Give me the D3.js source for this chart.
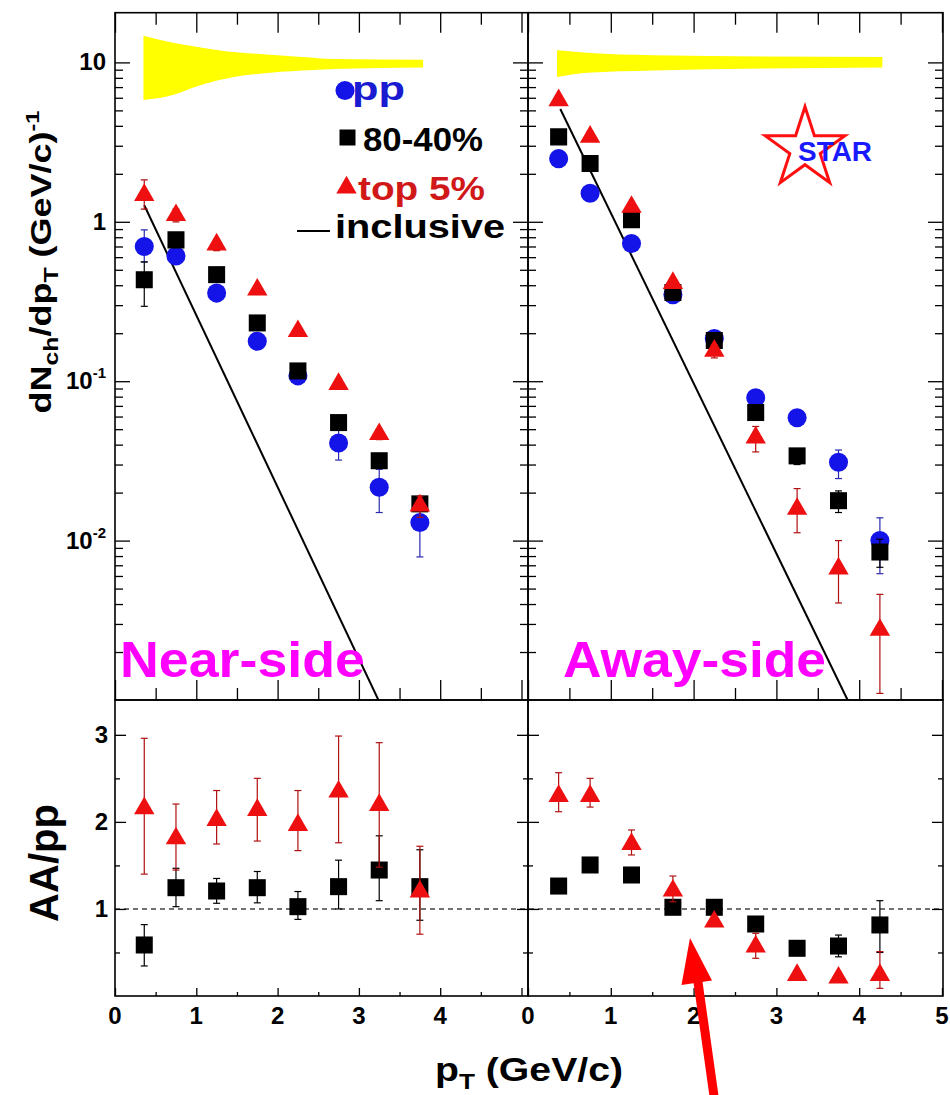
<!DOCTYPE html>
<html>
<head>
<meta charset="utf-8">
<script src="https://cdn.jsdelivr.net/npm/d3@7"></script>
<style>
  body { margin: 0; background: #fff; }
  text { font-family: "Liberation Sans", Arial, sans-serif; font-weight: bold; }
</style>
</head>
<body>
<div id="chart"></div>
<script>
// Bin centres in pT (GeV/c)
const ptNear = [0.36, 0.75, 1.25, 1.75, 2.25, 2.75, 3.25, 3.75];
const ptAway = [0.37, 0.75, 1.25, 1.75, 2.25, 2.75, 3.25, 3.75, 4.25];

// Near-side yields dN/dpT
const nearPP     = [0.70, 0.61, 0.357, 0.178, 0.108, 0.041, 0.0216, 0.0130];
const nearPPLo   = [0.56, 0.55, 0.33, 0.165, 0.100, 0.032, 0.0150, 0.0079];
const nearPPHi   = [0.89, 0.68, 0.39, 0.190, 0.116, 0.050, 0.0280, 0.0180];
const nearMid    = [0.433, 0.77, 0.466, 0.232, 0.116, 0.055, 0.0317, 0.0170];
const nearMidLo  = [0.295, 0.72, 0.44, 0.220, 0.110, 0.050, 0.0290, 0.0155];
const nearMidHi  = [0.56, 0.82, 0.49, 0.245, 0.122, 0.060, 0.0350, 0.0185];
const nearTop    = [1.47, 1.10, 0.72, 0.375, 0.206, 0.096, 0.0465, 0.0166];
const nearTopLo  = [1.20, 1.00, 0.66, 0.350, 0.195, 0.090, 0.0430, 0.0140];
const nearTopHi  = [1.83, 1.20, 0.78, 0.400, 0.218, 0.102, 0.0500, 0.0190];

// Away-side yields dN/dpT
const awayPP     = [2.49, 1.51, 0.73, 0.349, 0.185, 0.0788, 0.059, 0.031, 0.0100];
const awayPPLo   = [2.35, 1.45, 0.70, 0.330, 0.175, 0.0740, 0.054, 0.0245, 0.0062];
const awayPPHi   = [2.63, 1.58, 0.76, 0.370, 0.195, 0.0840, 0.064, 0.037, 0.0139];
const awayMid    = [3.41, 2.32, 1.03, 0.36, 0.18, 0.0636, 0.034, 0.0178, 0.00848];
const awayMidLo  = [3.25, 2.22, 0.98, 0.34, 0.17, 0.0600, 0.030, 0.0150, 0.0068];
const awayMidHi  = [3.60, 2.42, 1.08, 0.38, 0.19, 0.0670, 0.037, 0.0205, 0.0102];
const awayTop    = [5.78, 3.41, 1.24, 0.413, 0.155, 0.0443, 0.0158, 0.00667, 0.00275];
const awayTopLo  = [5.40, 3.20, 1.16, 0.390, 0.140, 0.0360, 0.0112, 0.00406, 0.00110];
const awayTopHi  = [6.20, 3.65, 1.32, 0.440, 0.170, 0.0520, 0.0212, 0.0100, 0.0046];

// Inclusive spectra (straight lines on the log scale)
const nearInclX = [0.36, 3.24];
const nearInclY = [1.27, 0.001];
const awayInclX = [0.39, 3.86];
const awayInclY = [5.1, 0.001];

// Systematic bands (yellow)
const nearBandX  = [0.35, 0.64, 1.05, 1.46, 1.78, 2.3, 2.7, 3.79];
const nearBandHi = [14.7, 13.5, 12.4, 11.6, 11.3, 10.8, 10.5, 10.4];
const nearBandLo = [5.8, 6.1, 7.2, 8.1, 8.5, 8.9, 9.1, 9.3];
const awayBandX  = [0.35, 0.71, 1.51, 4.28];
const awayBandHi = [11.9, 11.5, 11.1, 10.8];
const awayBandLo = [8.1, 8.6, 8.9, 9.3];

// Ratios AA/pp
const nearRatMid   = [0.586, 1.244, 1.206, 1.244, 1.026, 1.256, 1.447, 1.256];
const nearRatMidLo = [0.345, 1.026, 1.065, 1.07, 0.88, 1.0, 1.095, 0.87];
const nearRatMidHi = [0.82, 1.467, 1.35, 1.43, 1.2, 1.56, 1.84, 1.68];
const nearRatTop   = [2.156, 1.81, 2.02, 2.136, 1.964, 2.347, 2.194, 1.198];
const nearRatTopLo = [1.40, 1.447, 1.746, 1.78, 1.67, 1.76, 1.48, 0.71];
const nearRatTopHi = [2.96, 2.205, 2.36, 2.50, 2.36, 2.986, 2.91, 1.72];
const awayRatMid   = [1.263, 1.505, 1.39, 1.019, 1.019, 0.827, 0.548, 0.574, 0.816];
const awayRatMidLo = [1.20, 1.45, 1.33, 0.98, 0.97, 0.77, 0.50, 0.45, 0.50];
const awayRatMidHi = [1.32, 1.56, 1.45, 1.06, 1.07, 0.88, 0.60, 0.70, 1.095];
const awayRatTop   = [2.297, 2.297, 1.746, 1.21, 0.853, 0.567, 0.241, 0.21, 0.241];
const awayRatTopLo = [2.117, 2.17, 1.62, 1.083, 0.80, 0.433, 0.20, 0.17, 0.088];
const awayRatTopHi = [2.565, 2.50, 1.907, 1.378, 0.90, 0.72, 0.29, 0.25, 0.51];

// Tick labels
const xTickNear = [0, 1, 2, 3, 4];
const xTickAway = [0, 1, 2, 3, 4, 5];
const logTickValues = [10, 1, 0.1, 0.01];
const logTickBase = ["10", "1", "10", "10"];
const logTickExp = ["", "", "-1", "-2"];
const ratioTickValues = [3, 2, 1];

// Layout
const width = 950, height = 1095;
const L = 115, M = 528, R = 943, T = 12.7, MID = 700, B = 996;

const colors = { pp: "#1414e8", mid: "#000000", top: "#ee1010" };
const errColors = { pp: "#2a2ab0", mid: "#000000", top: "#b01010" };

const svg = d3.select("#chart")
  .append("svg")
  .attr("width", width)
  .attr("height", height)
  .style("background", "#fff");

// Scales
const xNear = d3.scaleLinear().domain([0, 5.08]).range([L, M]);
const xAway = d3.scaleLinear().domain([0, 5]).range([M, R - 1]);
const yTop = d3.scaleLog().domain([0.001, 20.5]).range([MID, T]);
const yRat = d3.scaleLinear().domain([0, 3.4]).range([B, MID]);

const symbols = {
  pp: d3.symbol(d3.symbolCircle, 285),
  mid: d3.symbol(d3.symbolSquare, 290),
  top: d3.symbol(d3.symbolTriangle, 180)
};

const zip = (xs, ys, lo, hi) => xs.map((x, i) => ({ x, y: ys[i], lo: lo[i], hi: hi[i] }));

// Clip paths for the panels
const defs = svg.append("defs");
[["clipNear", L, M], ["clipAway", M, R]].forEach(([id, a, b]) => {
  defs.append("clipPath").attr("id", id)
    .append("rect").attr("x", a).attr("y", T).attr("width", b - a).attr("height", MID - T);
});

// Inward ticks helper
function ticks(axisGen, scale, values, size, tx, ty) {
  svg.append("g")
    .attr("transform", `translate(${tx},${ty})`)
    .call(axisGen(scale).tickValues(values).tickSize(-size).tickFormat(() => ""))
    .call(g => g.select(".domain").remove())
    .call(g => g.selectAll("line").attr("stroke", "#000").attr("stroke-width", 1.3));
}

function drawSeries(g, x, y, series, key) {
  const cap = 3.5;
  const eg = g.append("g")
    .attr("stroke", errColors[key])
    .attr("stroke-width", 1.2);
  eg.selectAll("line.v").data(series).join("line")
    .attr("x1", d => x(d.x)).attr("x2", d => x(d.x))
    .attr("y1", d => y(d.lo)).attr("y2", d => y(d.hi));
  eg.selectAll("line.lo").data(series).join("line")
    .attr("x1", d => x(d.x) - cap).attr("x2", d => x(d.x) + cap)
    .attr("y1", d => y(d.lo)).attr("y2", d => y(d.lo));
  eg.selectAll("line.hi").data(series).join("line")
    .attr("x1", d => x(d.x) - cap).attr("x2", d => x(d.x) + cap)
    .attr("y1", d => y(d.hi)).attr("y2", d => y(d.hi));
  g.append("g").selectAll("path").data(series).join("path")
    .attr("d", symbols[key]())
    .attr("transform", d => `translate(${x(d.x)},${y(d.y)})`)
    .attr("fill", colors[key]);
}

function drawTop(x, clipId, bandX, bandLo, bandHi, inclX, inclY, pp, mid, top) {
  const g = svg.append("g").attr("clip-path", `url(#${clipId})`);

  const band = bandX.map((v, i) => ({ x: v, lo: bandLo[i], hi: bandHi[i] }));
  g.append("path")
    .datum(band)
    .attr("fill", "#ffff00")
    .attr("d", d3.area().curve(d3.curveMonotoneX)
      .x(d => x(d.x)).y0(d => yTop(d.lo)).y1(d => yTop(d.hi)));

  const incl = inclX.map((v, i) => ({ x: v, y: inclY[i] }));
  g.append("path")
    .datum(incl)
    .attr("fill", "none")
    .attr("stroke", "#000")
    .attr("stroke-width", 2)
    .attr("d", d3.line().x(d => x(d.x)).y(d => yTop(d.y)));

  drawSeries(g, x, yTop, pp, "pp");
  drawSeries(g, x, yTop, mid, "mid");
  drawSeries(g, x, yTop, top, "top");
}

function drawRatio(x, mid, top) {
  const g = svg.append("g");
  drawSeries(g, x, yRat, mid, "mid");
  drawSeries(g, x, yRat, top, "top");
}

// Top panels
drawTop(xNear, "clipNear", nearBandX, nearBandLo, nearBandHi, nearInclX, nearInclY,
  zip(ptNear, nearPP, nearPPLo, nearPPHi),
  zip(ptNear, nearMid, nearMidLo, nearMidHi),
  zip(ptNear, nearTop, nearTopLo, nearTopHi));
drawTop(xAway, "clipAway", awayBandX, awayBandLo, awayBandHi, awayInclX, awayInclY,
  zip(ptAway, awayPP, awayPPLo, awayPPHi),
  zip(ptAway, awayMid, awayMidLo, awayMidHi),
  zip(ptAway, awayTop, awayTopLo, awayTopHi));

// Dashed unity line in the ratio panels
svg.append("line")
  .attr("x1", L).attr("x2", R)
  .attr("y1", yRat(1)).attr("y2", yRat(1))
  .attr("stroke", "#444")
  .attr("stroke-width", 1.5)
  .attr("stroke-dasharray", "5,4");

drawRatio(xNear,
  zip(ptNear, nearRatMid, nearRatMidLo, nearRatMidHi),
  zip(ptNear, nearRatTop, nearRatTopLo, nearRatTopHi));
drawRatio(xAway,
  zip(ptAway, awayRatMid, awayRatMidLo, awayRatMidHi),
  zip(ptAway, awayRatTop, awayRatTopLo, awayRatTopHi));

// Ticks
const xMajor = d3.range(0, 5.01, 1);
const xMinor = d3.range(0.5, 5, 1);
const logAll = yTop.ticks().filter(v => v > 0.001 && v < 20);
const logMajor = logAll.filter(v => Math.abs(Math.log10(v) - Math.round(Math.log10(v))) < 1e-9);
const logMinor = logAll.filter(v => !logMajor.includes(v));
const ratMajor = [1, 2, 3];
const ratMinor = [0.5, 1.5, 2.5];

[xNear, xAway].forEach(x => {
  ticks(d3.axisTop, x, xMajor, 20, 0, T);
  ticks(d3.axisTop, x, xMinor, 12, 0, T);
  ticks(d3.axisBottom, x, xMajor, 20, 0, MID);
  ticks(d3.axisBottom, x, xMinor, 12, 0, MID);
  ticks(d3.axisBottom, x, xMajor, 8, 0, B);
  ticks(d3.axisBottom, x, xMinor, 4, 0, B);
});

[[L, d3.axisLeft], [M, d3.axisRight], [M, d3.axisLeft], [R, d3.axisRight]].forEach(([px, ax]) => {
  ticks(ax, yTop, logMajor, 15, px, 0);
  ticks(ax, yTop, logMinor, 8, px, 0);
  ticks(ax, yRat, ratMajor, 11, px, 0);
  ticks(ax, yRat, ratMinor, 5, px, 0);
});

// Frames
[[L, T, M, MID], [M, T, R, MID], [L, MID, M, B], [M, MID, R, B]].forEach(([x0, y0, x1, y1]) => {
  svg.append("rect")
    .attr("x", x0).attr("y", y0)
    .attr("width", x1 - x0).attr("height", y1 - y0)
    .attr("fill", "none")
    .attr("stroke", "#000")
    .attr("stroke-width", 1.6);
});

// Tick labels
const labels = svg.append("g").attr("font-size", 24).attr("fill", "#000");
[[xNear, xTickNear], [xAway, xTickAway]].forEach(([x, vals]) => {
  labels.selectAll(null).data(vals).join("text")
    .attr("x", d => x(d))
    .attr("y", 1024)
    .attr("text-anchor", "middle")
    .text(d => d);
});

logTickValues.forEach((v, i) => {
  const t = labels.append("text")
    .attr("x", 106)
    .attr("y", yTop(v) + 8)
    .attr("text-anchor", "end")
    .text(logTickBase[i]);
  if (logTickExp[i]) {
    t.append("tspan").attr("dy", -11).attr("font-size", 15).text(logTickExp[i]);
  }
});

labels.selectAll(null).data(ratioTickValues).join("text")
  .attr("x", 108)
  .attr("y", d => yRat(d) + 8.5)
  .attr("text-anchor", "end")
  .text(d => d);

// Axis titles
const yTitle = svg.append("text")
  .attr("transform", "translate(51,262) rotate(-90)")
  .attr("text-anchor", "middle")
  .attr("font-size", 29)
  .attr("textLength", 303)
  .attr("lengthAdjust", "spacingAndGlyphs");
yTitle.append("tspan").text("dN");
yTitle.append("tspan").attr("dy", 7).attr("font-size", 20).text("ch");
yTitle.append("tspan").attr("dy", -7).text("/dp");
yTitle.append("tspan").attr("dy", 7).attr("font-size", 20).text("T");
yTitle.append("tspan").attr("dy", -7).text(" (GeV/c)");
yTitle.append("tspan").attr("dy", -12).attr("font-size", 19).text("-1");

svg.append("text")
  .attr("transform", "translate(58,863) rotate(-90)")
  .attr("text-anchor", "middle")
  .attr("font-size", 40)
  .text("AA/pp");

const xTitle = svg.append("text")
  .attr("x", 435)
  .attr("y", 1081)
  .attr("font-size", 33)
  .attr("textLength", 188)
  .attr("lengthAdjust", "spacingAndGlyphs");
xTitle.append("tspan").text("p");
xTitle.append("tspan").attr("dy", 8).attr("font-size", 22).text("T");
xTitle.append("tspan").attr("dy", -8).text(" (GeV/c)");

// Panel labels
svg.append("text")
  .attr("x", 120).attr("y", 677)
  .attr("font-size", 50)
  .attr("fill", "#ff00ff")
  .attr("textLength", 245)
  .attr("lengthAdjust", "spacingAndGlyphs")
  .text("Near-side");
svg.append("text")
  .attr("x", 563).attr("y", 677)
  .attr("font-size", 50)
  .attr("fill", "#ff00ff")
  .attr("textLength", 263)
  .attr("lengthAdjust", "spacingAndGlyphs")
  .text("Away-side");

// Legend
const legend = svg.append("g").attr("font-size", 33);
legend.append("path").attr("d", symbols.pp()).attr("transform", "translate(345,90.5)").attr("fill", colors.pp);
legend.append("text").attr("x", 352).attr("y", 100).attr("fill", "#1a1ad0")
  .attr("textLength", 53).attr("lengthAdjust", "spacingAndGlyphs").text("pp");
legend.append("path").attr("d", d3.symbol(d3.symbolSquare, 256)()).attr("transform", "translate(347.5,137.5)").attr("fill", colors.mid);
legend.append("text").attr("x", 363).attr("y", 150.5).attr("fill", "#000")
  .attr("textLength", 120).attr("lengthAdjust", "spacingAndGlyphs").text("80-40%");
legend.append("path").attr("d", symbols.top()).attr("transform", "translate(346.5,187.5)").attr("fill", colors.top);
legend.append("text").attr("x", 358).attr("y", 199.5).attr("fill", "#d01818")
  .attr("textLength", 127).attr("lengthAdjust", "spacingAndGlyphs").text("top 5%");
legend.append("line").attr("x1", 297).attr("x2", 330).attr("y1", 231).attr("y2", 231)
  .attr("stroke", "#000").attr("stroke-width", 2);
legend.append("text").attr("x", 335).attr("y", 238).attr("fill", "#000")
  .attr("textLength", 170).attr("lengthAdjust", "spacingAndGlyphs").text("inclusive");

// STAR logo
const starC = [805, 148.7], rOut = 42, rIn = 16;
const starPts = d3.range(10).map(i => {
  const a = -Math.PI / 2 + i * Math.PI / 5;
  const r = i % 2 === 0 ? rOut : rIn;
  return [starC[0] + r * Math.cos(a), starC[1] + r * Math.sin(a)];
});
svg.append("path")
  .attr("d", d3.line()(starPts) + "Z")
  .attr("fill", "#fff")
  .attr("stroke", "#ff1010")
  .attr("stroke-width", 3);
svg.append("text")
  .attr("x", 798).attr("y", 160.5)
  .attr("font-size", 27)
  .attr("fill", "#1a1aff")
  .attr("textLength", 74)
  .attr("lengthAdjust", "spacingAndGlyphs")
  .text("STAR");

// Red arrow
svg.append("line")
  .attr("x1", 714).attr("y1", 1096)
  .attr("x2", 697).attr("y2", 975)
  .attr("stroke", "#ff0000")
  .attr("stroke-width", 9);
svg.append("path")
  .attr("d", "M690,938 L681.5,985 L712,980.5 Z")
  .attr("fill", "#ff0000");
</script>
</body>
</html>
